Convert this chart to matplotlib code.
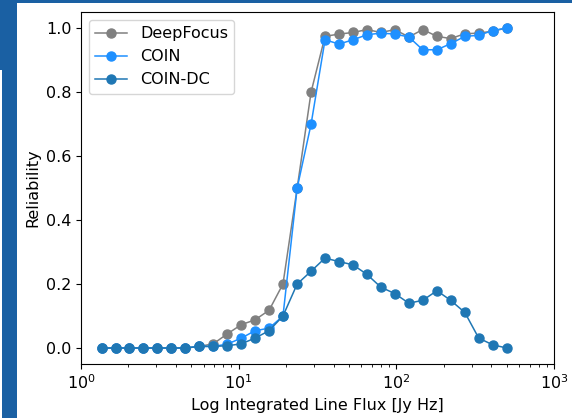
import matplotlib
matplotlib.use("Agg")
import matplotlib.pyplot as plt
from matplotlib.patches import Rectangle

flux = [1.35, 1.66, 2.03, 2.49, 3.05, 3.74, 4.59, 5.63, 6.90, 8.46,
        10.4, 12.7, 15.6, 19.1, 23.5, 28.8, 35.3, 43.3, 53.1, 65.1,
        79.8, 97.9, 120, 147, 181, 221, 272, 333, 408, 501]

deepfocus = [0, 0, 0, 0, 0, 0, 0, 0.005, 0.013, 0.044,
             0.073, 0.088, 0.118, 0.20, 0.50, 0.80, 0.974, 0.981, 0.986, 0.995,
             0.986, 0.995, 0.972, 0.995, 0.974, 0.967, 0.982, 0.984, 0.99, 1.0]

coin = [0, 0, 0, 0, 0, 0, 0, 0.005, 0.005, 0.012,
        0.031, 0.054, 0.062, 0.10, 0.50, 0.70, 0.963, 0.95, 0.963, 0.979,
        0.984, 0.981, 0.972, 0.932, 0.932, 0.951, 0.974, 0.977, 0.992, 1.0]

coin_dc = [0, 0, 0, 0, 0, 0, 0, 0.005, 0.005, 0.007,
           0.013, 0.031, 0.054, 0.10, 0.20, 0.24, 0.281, 0.27, 0.26, 0.23,
           0.19, 0.17, 0.14, 0.149, 0.179, 0.149, 0.111, 0.031, 0.010, 0.0]

plt.rcParams["font.size"] = 11.5

fig = plt.figure(figsize=(5.72, 4.19), dpi=100)
fig.patch.set_facecolor("white")
frame = "#1a60a3"
W, H = 572, 419
fig.patches.append(Rectangle((0, 1 - 3 / H), 1, 3 / H, transform=fig.transFigure,
                             facecolor=frame, edgecolor="none", zorder=0))
fig.patches.append(Rectangle((0, 1 - 70 / H), 17 / W, 70 / H, transform=fig.transFigure,
                             facecolor=frame, edgecolor="none", zorder=0))
fig.patches.append(Rectangle((2 / W, 1 / H), 15 / W, (H - 71) / H, transform=fig.transFigure,
                             facecolor=frame, edgecolor="none", zorder=0))

ax = fig.add_axes([81 / W, 55 / H, (554 - 81) / W, (364 - 12) / H])
ax.plot(flux, deepfocus, marker="o", color="grey", lw=1.1, ms=6.5, label="DeepFocus")
ax.plot(flux, coin, marker="o", color="dodgerblue", lw=1.1, ms=6.5, label="COIN")
ax.plot(flux, coin_dc, marker="o", color="tab:blue", lw=1.1, ms=6.5, label="COIN-DC")
ax.set_xscale("log")
ax.set_xlim(1, 1000)
ax.set_ylim(-0.05, 1.05)
ax.set_xlabel("Log Integrated Line Flux [Jy Hz]")
ax.set_ylabel("Reliability")
ax.legend(loc="upper left")

fig.savefig("out.png", dpi=100)
